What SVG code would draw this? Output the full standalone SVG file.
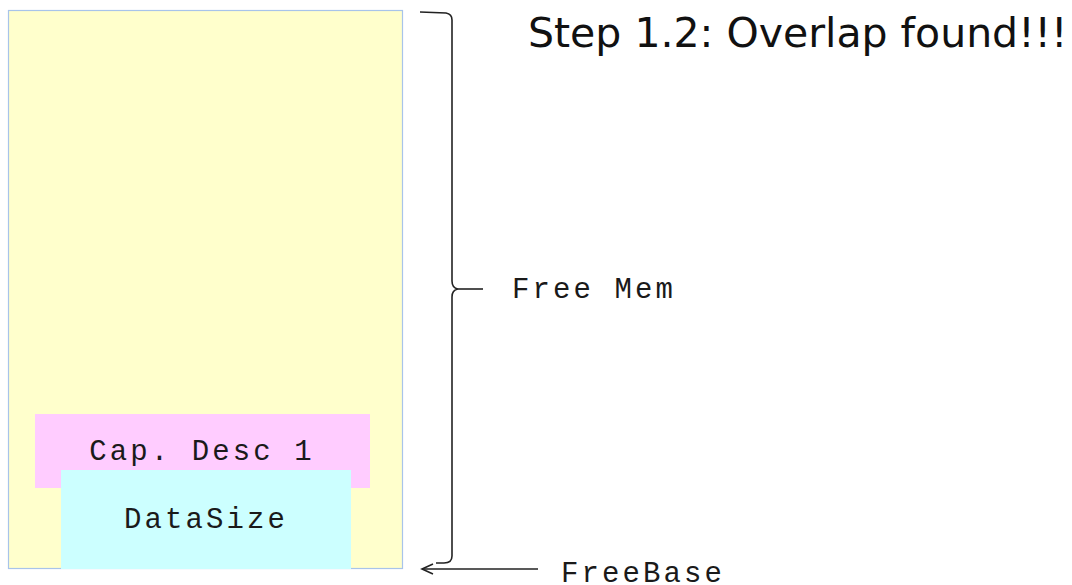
<svg xmlns="http://www.w3.org/2000/svg" width="1072" height="585" viewBox="0 0 1072 585">
<style>
.mono{font-family:"Liberation Mono","DejaVu Sans Mono",monospace;font-size:29px;letter-spacing:3.1px;fill:#1a1a1a}
.title{font-family:"DejaVu Sans",Verdana,sans-serif;font-size:41px;fill:#111}
.ln{fill:none;stroke:#222;stroke-width:1.6}
</style>
<defs>
<marker id="open" markerWidth="14" markerHeight="12" refX="12" refY="6" orient="auto" markerUnits="userSpaceOnUse">
<path d="M1,1 L12,6 L1,11" fill="none" stroke="#222" stroke-width="1.6"/>
</marker>
</defs>
<rect width="1072" height="585" fill="#fff"/>
<g id="freemem-block">
<rect x="8.5" y="10.5" width="394" height="558" fill="#ffffcc" stroke="#a8c4ea" stroke-width="1.2"/>
</g>
<g id="cap-desc-1">
<rect x="35" y="414" width="335" height="74" fill="#ffccff"/>
<text class="mono" x="202" y="460" text-anchor="middle">Cap. Desc 1</text>
</g>
<g id="datasize">
<rect x="61" y="470" width="290" height="99" fill="#ccffff"/>
<text class="mono" x="206" y="528" text-anchor="middle">DataSize</text>
</g>
<g id="title">
<text class="title" x="528" y="47">Step 1.2: Overlap found!!!</text>
</g>
<g id="connectors">
<path class="ln" d="M420,12 L446,13 Q452,14 452,20 L452,281 Q452,288 458,289 Q452,290 452,297 L452,556 Q452,563 444,563 L436,563"/>
<line class="ln" x1="458" y1="289" x2="483" y2="289"/>
<line class="ln" x1="538" y1="569" x2="422" y2="569" marker-end="url(#open)"/>
</g>
<g id="labels">
<text class="mono" x="512" y="298">Free Mem</text>
<text class="mono" x="561" y="582">FreeBase</text>
</g>
</svg>
